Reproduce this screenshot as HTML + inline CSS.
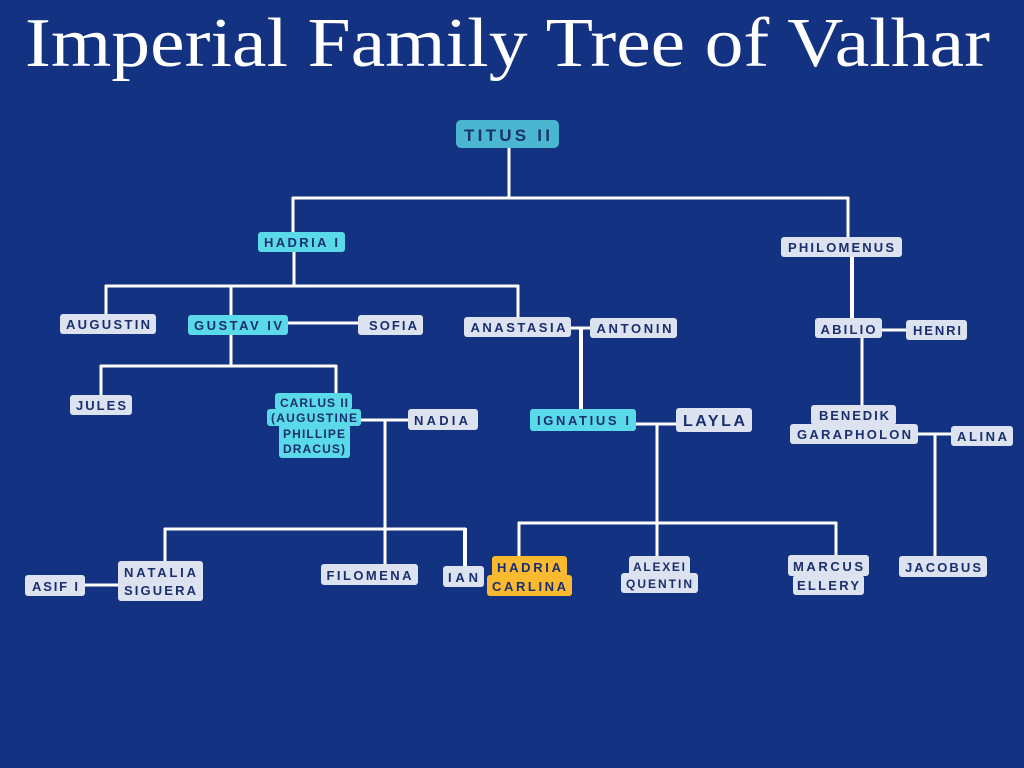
<!DOCTYPE html>
<html><head><meta charset="utf-8"><style>
html,body{margin:0;padding:0;background:#143282;}
svg{display:block}
text{font-family:"Liberation Sans",sans-serif;font-weight:bold;fill:#1a2f6e;}
</style></head><body>
<svg width="1024" height="768" viewBox="0 0 1024 768" xmlns="http://www.w3.org/2000/svg">
<rect width="1024" height="768" fill="#143282"/>
<text x="25" y="66" textLength="965" lengthAdjust="spacingAndGlyphs" style="font-family:'Liberation Serif',serif;font-weight:normal;font-size:70px;fill:#fff">Imperial Family Tree of Valhar</text>
<g stroke="#fff" stroke-width="3" fill="none">
<path d="M509 148V198M292 198H849M293 197V232M848 197V237"/>
<path d="M294 252V286M105 286H519M106 285V314M231 285V315M518 285V317"/>
<path d="M288 323H358"/>
<path d="M231 335V366M100 366H337M101 365V395M336 365V393"/>
<path d="M571 328H590"/>
<path d="M581 328V409" stroke-width="4"/>
<path d="M852 257V318" stroke-width="4"/>
<path d="M882 330H906M862 338V405"/>
<path d="M361 420H408M385 420V530M164 529H466M165 528V561M385 528V564"/>
<path d="M465 528V566" stroke-width="4"/>
<path d="M85 585H118"/>
<path d="M636 424H676M657 424V524M518 523H837M519 522V556M657 522V556M836 522V555"/>
<path d="M918 434H951M935 434V556"/>
</g>
<g>
<rect x="456" y="120" width="103" height="28" rx="5" fill="#4ab6d0"/>
<text x="507" y="141" font-size="17" text-anchor="middle" textLength="86">TITUS II</text>

<rect x="258" y="232" width="87" height="20" rx="3" fill="#5ad9e8"/>
<text x="301" y="247" font-size="13" text-anchor="middle" textLength="74">HADRIA I</text>

<rect x="781" y="237" width="121" height="20" rx="3" fill="#dde2f0"/>
<text x="841" y="252" font-size="13" text-anchor="middle" textLength="106">PHILOMENUS</text>

<rect x="60" y="314" width="96" height="20" rx="3" fill="#dde2f0"/>
<text x="108" y="329" font-size="13" text-anchor="middle" textLength="84">AUGUSTIN</text>

<rect x="188" y="315" width="100" height="20" rx="3" fill="#5ad9e8"/>
<text x="238" y="330" font-size="13" text-anchor="middle" textLength="88">GUSTAV IV</text>

<rect x="358" y="315" width="65" height="20" rx="3" fill="#dde2f0"/>
<text x="393" y="330" font-size="13" text-anchor="middle" textLength="48">SOFIA</text>

<rect x="464" y="317" width="107" height="20" rx="3" fill="#dde2f0"/>
<text x="518" y="332" font-size="13" text-anchor="middle" textLength="95">ANASTASIA</text>

<rect x="590" y="318" width="87" height="20" rx="3" fill="#dde2f0"/>
<text x="634" y="333" font-size="13" text-anchor="middle" textLength="75">ANTONIN</text>

<rect x="815" y="318" width="67" height="20" rx="3" fill="#dde2f0"/>
<text x="848" y="334" font-size="13" text-anchor="middle" textLength="55">ABILIO</text>

<rect x="906" y="320" width="61" height="20" rx="3" fill="#dde2f0"/>
<text x="937" y="335" font-size="13" text-anchor="middle" textLength="48">HENRI</text>

<rect x="70" y="395" width="62" height="20" rx="3" fill="#dde2f0"/>
<text x="101" y="410" font-size="13" text-anchor="middle" textLength="50">JULES</text>

<rect x="275" y="393" width="77" height="17" rx="3" fill="#5ad9e8"/>
<rect x="267" y="409" width="94" height="17" rx="3" fill="#5ad9e8"/>
<rect x="279" y="424" width="71" height="34" rx="3" fill="#5ad9e8"/>
<text x="314" y="407" font-size="12" text-anchor="middle" textLength="68">CARLUS II</text>
<text x="314" y="422" font-size="12" text-anchor="middle" textLength="86">(AUGUSTINE</text>
<text x="314" y="438" font-size="12" text-anchor="middle" textLength="62">PHILLIPE</text>
<text x="314" y="453" font-size="12" text-anchor="middle" textLength="62">DRACUS)</text>

<rect x="408" y="409" width="70" height="21" rx="3" fill="#dde2f0"/>
<text x="441" y="425" font-size="13" text-anchor="middle" textLength="54">NADIA</text>

<rect x="530" y="409" width="106" height="22" rx="3" fill="#5ad9e8"/>
<text x="583" y="425" font-size="13" text-anchor="middle" textLength="92">IGNATIUS I</text>

<rect x="676" y="408" width="76" height="24" rx="3" fill="#dde2f0"/>
<text x="714" y="426" font-size="16" text-anchor="middle" textLength="62">LAYLA</text>

<rect x="811" y="405" width="85" height="20" rx="3" fill="#dde2f0"/>
<rect x="790" y="424" width="128" height="20" rx="3" fill="#dde2f0"/>
<text x="854" y="420" font-size="13" text-anchor="middle" textLength="70">BENEDIK</text>
<text x="854" y="439" font-size="13" text-anchor="middle" textLength="114">GARAPHOLON</text>

<rect x="951" y="426" width="62" height="20" rx="3" fill="#dde2f0"/>
<text x="982" y="441" font-size="13" text-anchor="middle" textLength="50">ALINA</text>

<rect x="25" y="575" width="60" height="21" rx="3" fill="#dde2f0"/>
<text x="55" y="591" font-size="13" text-anchor="middle" textLength="46">ASIF I</text>

<rect x="118" y="561" width="85" height="40" rx="3" fill="#dde2f0"/>
<text x="160" y="577" font-size="13" text-anchor="middle" textLength="72">NATALIA</text>
<text x="160" y="595" font-size="13" text-anchor="middle" textLength="72">SIGUERA</text>

<rect x="321" y="564" width="97" height="21" rx="3" fill="#dde2f0"/>
<text x="369" y="580" font-size="13" text-anchor="middle" textLength="85">FILOMENA</text>

<rect x="443" y="566" width="41" height="21" rx="3" fill="#dde2f0"/>
<text x="463" y="582" font-size="13" text-anchor="middle" textLength="30">IAN</text>

<rect x="492" y="556" width="75" height="21" rx="3" fill="#fbb930"/>
<rect x="487" y="575" width="85" height="21" rx="3" fill="#fbb930"/>
<text x="529" y="572" font-size="13" text-anchor="middle" textLength="64">HADRIA</text>
<text x="529" y="591" font-size="13" text-anchor="middle" textLength="74">CARLINA</text>

<rect x="629" y="556" width="61" height="20" rx="3" fill="#dde2f0"/>
<rect x="621" y="573" width="77" height="20" rx="3" fill="#dde2f0"/>
<text x="659" y="571" font-size="12" text-anchor="middle" textLength="52">ALEXEI</text>
<text x="659" y="588" font-size="12" text-anchor="middle" textLength="66">QUENTIN</text>

<rect x="788" y="555" width="81" height="21" rx="3" fill="#dde2f0"/>
<rect x="793" y="575" width="71" height="20" rx="3" fill="#dde2f0"/>
<text x="828" y="571" font-size="13" text-anchor="middle" textLength="70">MARCUS</text>
<text x="828" y="590" font-size="13" text-anchor="middle" textLength="62">ELLERY</text>

<rect x="899" y="556" width="88" height="21" rx="3" fill="#dde2f0"/>
<text x="943" y="572" font-size="13" text-anchor="middle" textLength="76">JACOBUS</text>
</g>
</svg>
</body></html>
